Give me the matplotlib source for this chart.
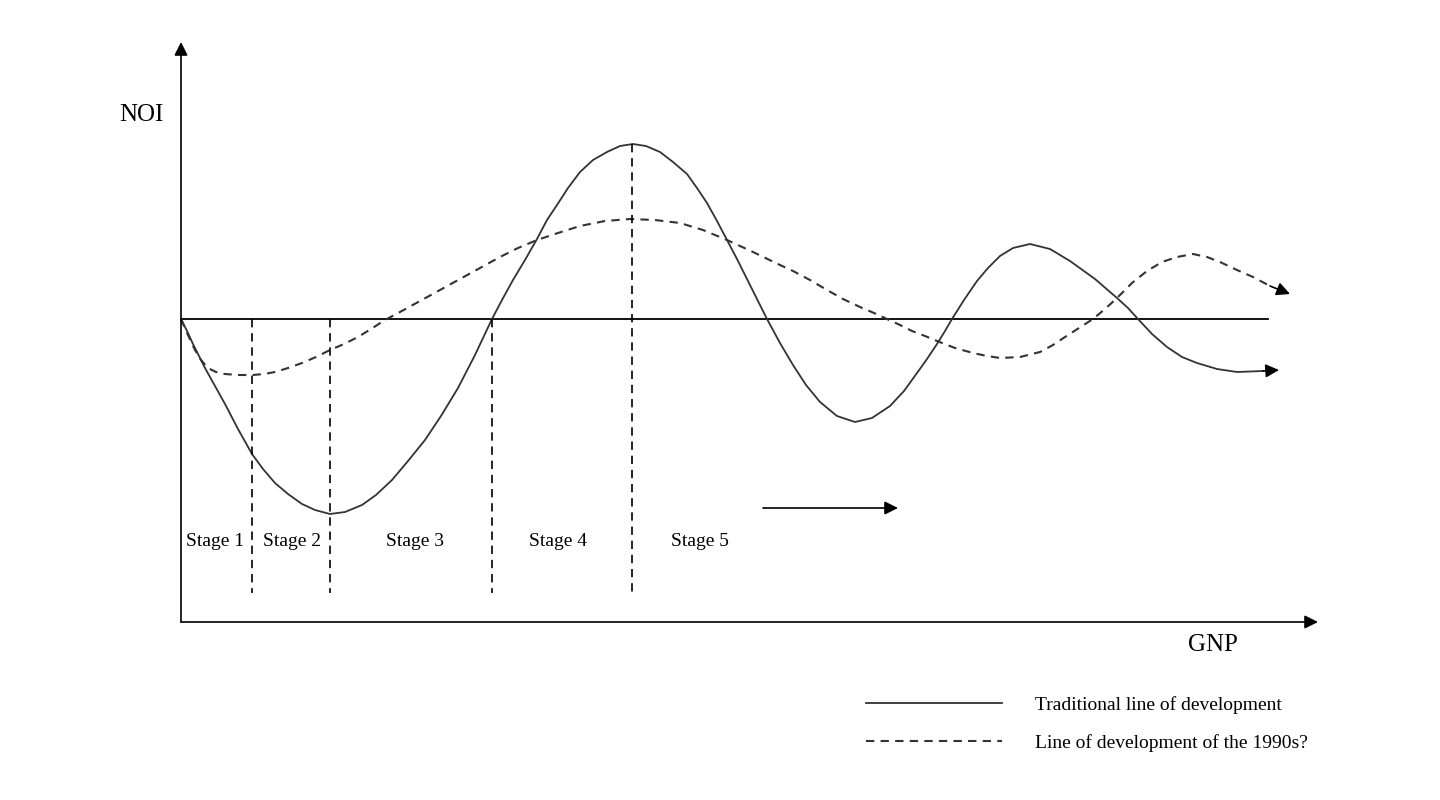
import matplotlib
matplotlib.use("Agg")
import matplotlib.pyplot as plt

plt.rcParams["font.family"] = ["Liberation Serif", "DejaVu Serif"]

# Traditional line of development
trad_gnp = [0, 6, 12, 18, 24, 34, 44, 57, 71, 82, 94, 107, 121, 134, 149, 164, 181, 195, 211, 227,
            244, 260, 277, 294, 311, 321, 332, 344, 356, 366, 376, 387, 399, 412, 426, 439, 452, 465, 479, 492,
            506, 516, 526, 536, 546, 556, 566, 576, 586, 599, 612, 625, 639, 656, 674, 691, 709, 723, 736, 746,
            756, 764, 771, 783, 796, 807, 819, 832, 849, 869, 889, 914, 936, 947, 957, 971, 986, 1001, 1016, 1036,
            1056, 1082]
trad_noi = [0, -12, -25, -37, -49, -67, -85, -110, -135, -150, -164, -175, -185, -191, -195, -193, -186, -176, -161, -142,
            -121, -97, -69, -36, 0, 19, 39, 59, 80, 99, 114, 131, 147, 159, 167, 173, 175, 173, 167, 157,
            145, 131, 116, 98, 79, 60, 40, 20, 0, -24, -46, -66, -83, -97, -103, -99, -87, -72, -54, -40,
            -25, -12, 0, 19, 38, 51, 63, 71, 75, 70, 58, 40, 21, 11, 0, -15, -28, -38, -44, -50,
            -53, -52]
trad_tip = (1098, -51)

# Line of development of the 1990s?
new_gnp = [0, 7, 14, 20, 27, 35, 44, 57, 72, 83, 94, 107, 121, 135, 149, 163, 177, 190, 204, 219,
           239, 259, 279, 299, 319, 337, 356, 377, 399, 424, 449, 474, 499, 522, 546, 572, 599, 612, 629, 646,
           662, 679, 693, 706, 719, 731, 744, 756, 774, 792, 806, 819, 839, 859, 872, 884, 898, 912, 924, 936,
           951, 966, 981, 996, 1012, 1026, 1039, 1056, 1072, 1089]
new_noi = [0, -16, -31, -41, -49, -53, -55, -56, -56, -55, -53, -49, -44, -38, -31, -25, -18, -10, -1, 7,
           18, 29, 40, 51, 62, 71, 79, 86, 93, 98, 100, 99, 96, 89, 79, 67, 54, 48, 39, 29,
           20, 12, 6, 0, -6, -12, -17, -22, -29, -34, -37, -39, -38, -33, -26, -18, -9, 0, 10, 21,
           36, 48, 57, 62, 65, 62, 57, 49, 42, 33]
new_tip = (1109, 25)

# stage boundaries and labels
stage_bounds = [71, 149, 311, 451]
stage_bound_top = [0, 0, 0, 175]
stage_names = ["Stage 1", "Stage 2", "Stage 3", "Stage 4", "Stage 5"]
stage_centers = [34, 111, 234, 377, 519]

legend_labels = ["Traditional line of development", "Line of development of the 1990s?"]

fig = plt.figure(figsize=(14.4, 8), dpi=100)
ax = fig.add_axes([0, 0, 1, 1])
ax.set_xlim(-181, 1259)
ax.set_ylim(-481, 319)
ax.axis("off")

arrow = dict(arrowstyle="-|>", color="black", lw=1.2, mutation_scale=20,
             shrinkA=0, shrinkB=0)

# axes with arrow heads
ax.annotate("", xy=(0, 277), xytext=(0, -303), arrowprops=arrow)
ax.annotate("", xy=(1137, -303), xytext=(0, -303), arrowprops=arrow)
ax.plot([0, 1087], [0, 0], color="black", lw=1.3)

ax.text(-40, 204, "NOI", fontsize=18, ha="center", va="center")
ax.text(1032, -326, "GNP", fontsize=18, ha="center", va="center")

# curves
ax.plot(trad_gnp, trad_noi, color="#333333", lw=1.3, label=legend_labels[0])
ax.annotate("", xy=trad_tip, xytext=(trad_gnp[-1], trad_noi[-1]), arrowprops=arrow)
ax.plot(new_gnp, new_noi, color="#333333", lw=1.5, ls=(0, (4, 3)), label=legend_labels[1])
ax.annotate("", xy=new_tip, xytext=(new_gnp[-1], new_noi[-1]), arrowprops=arrow)

# stage separators
for xb, top in zip(stage_bounds, stage_bound_top):
    ax.plot([xb, xb], [top, -274], color="black", lw=1.2, ls=(0, (5, 3.5)))
for name, xc in zip(stage_names, stage_centers):
    ax.text(xc, -222, name, fontsize=14, ha="center", va="center")

ax.annotate("", xy=(717, -189), xytext=(582, -189), arrowprops=arrow)

leg = ax.legend(loc="upper left", bbox_to_anchor=(866 / 1440, 1 - 696 / 800),
                frameon=False, fontsize=14, handlelength=7.0, handletextpad=1.7,
                labelspacing=1.05, borderpad=0, borderaxespad=0)

fig.savefig("out.png", dpi=100)
